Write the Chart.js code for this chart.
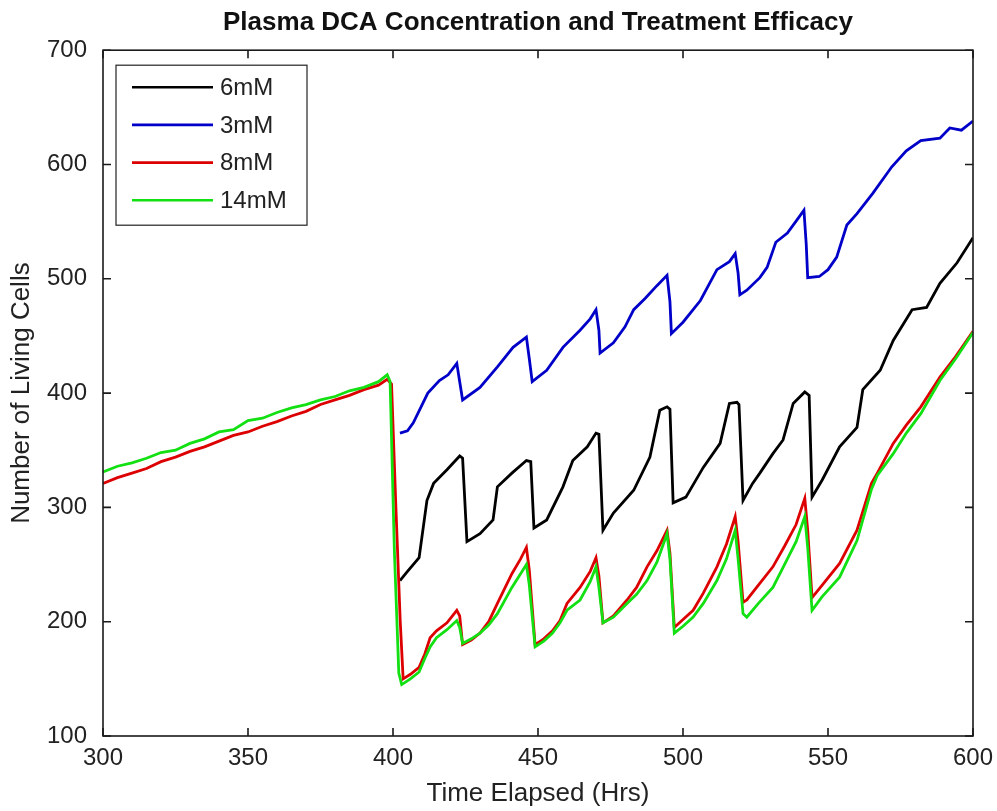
<!DOCTYPE html>
<html>
<head>
<meta charset="utf-8">
<script src="https://cdn.jsdelivr.net/npm/chart.js@4"></script>
<style>
  html, body { margin: 0; padding: 0; background: #fff; }
  #wrap { width: 997px; height: 811px; }
</style>
</head>
<body>
<div id="wrap"><canvas id="grafico"></canvas></div>
<script>
const rotulos = ['6mM', '3mM', '8mM', '14mM']
const cores = ['#000000', '#0000c8', '#dd0000', '#12e012']
const xTicks = [300, 350, 400, 450, 500, 550, 600]
const yTicks = [100, 200, 300, 400, 500, 600, 700]

// 6mM
const t6 = [402.4, 405, 409, 411.7, 414, 418.6, 423, 424, 425.5, 430, 434.5, 436, 441, 446, 447.5, 448.6, 453, 458.6, 462, 467, 470, 471, 472.4, 476, 483, 488.6, 492, 494.5, 495.5, 496.6, 501, 507, 512.8, 516, 518.6, 519.3, 520.7, 524, 526.5, 531, 534.5, 538, 542, 543.5, 544.5, 548, 554, 560, 562, 568, 572.5, 579, 584, 588.6, 594.5, 600]
const v6 = [236, 244, 256, 306, 321, 333, 345, 343, 270, 277, 289, 318, 330, 341, 340, 282, 289, 318, 341, 353, 365, 364, 280, 295, 315, 344, 385, 388, 386, 304, 309, 335, 356, 391, 392, 390, 306, 321, 330, 347, 359, 391, 401, 398, 309, 324, 353, 370, 403, 420, 446, 473, 475, 496, 514, 536]

// 3mM
const t3 = [402.4, 405, 407, 412, 416, 419, 422, 423, 424, 430, 436, 441.4, 446, 447, 448, 453, 458.6, 464.5, 468, 470, 471, 471.4, 476, 480, 483, 487, 491, 494.5, 495.5, 496, 500, 506, 511.7, 516, 518, 519, 519.6, 522, 526.5, 529, 532, 536, 540, 541.7, 542.5, 543, 547, 550, 553, 556.5, 560, 565.5, 572, 577, 582, 588.6, 592, 596, 600]
const v3 = [365, 367, 374, 400, 411, 416, 426, 410, 394, 405, 423, 440, 449, 430, 410, 420, 440, 455, 465, 473, 455, 435, 444, 458, 473, 483, 494, 503, 480, 452, 462, 481, 508, 515, 522, 505, 486, 490, 501, 510, 532, 540, 554, 560, 530, 501, 502, 508, 519, 547, 557, 575, 598, 612, 621, 623, 632, 630, 638]

// 8mM
const t8 = [300, 305, 310, 315, 320, 325, 330, 335, 340, 345, 350, 355, 360, 365, 370, 375, 380, 385, 390, 395, 398, 399.5, 401, 402.5, 403.5, 406, 409, 411, 412.8, 415, 418.6, 422, 423, 424, 427, 430, 433, 436, 441, 444, 446, 447, 449, 452, 455, 457.6, 460, 464.5, 468, 470, 471, 472.4, 476, 480.7, 484, 487.6, 491, 494.5, 495.5, 497, 500, 503.5, 507, 511.7, 515, 518, 519, 520.7, 522, 526, 531, 535, 539, 542, 543, 544.5, 548, 554, 560, 565, 567, 572.5, 577, 582, 588.6, 594, 600]
const v8 = [321, 326, 330, 334, 340, 344, 349, 353, 358, 363, 366, 371, 375, 380, 384, 390, 394, 398, 403, 407, 412, 408, 300, 200, 150, 154, 160, 172, 186, 192, 199, 210, 205, 180, 184, 190, 200, 216, 242, 255, 265, 245, 180, 185, 192, 201, 216, 230, 244, 256, 240, 199, 205, 219, 230, 248, 262, 280, 260, 195, 202, 210, 225, 248, 268, 292, 270, 217, 219, 232, 248, 266, 285, 308, 280, 221, 232, 251, 280, 321, 330, 356, 372, 388, 414, 432, 454]

// 14mM
const t14 = [300, 305, 310, 315, 320, 325, 330, 335, 340, 345, 350, 355, 360, 365, 370, 375, 380, 385, 390, 395, 398, 399, 400.5, 402, 403, 406, 409, 411, 412.8, 415, 418.6, 422, 423, 424, 427, 430, 433, 436, 441, 444, 446, 447, 449, 452, 455, 457.6, 460, 464.5, 468, 470, 471, 472.4, 476, 480.7, 484, 487.6, 491, 494.5, 495.5, 497, 500, 503.5, 507, 511.7, 515, 518, 519, 520.7, 522, 526, 531, 535, 539, 542, 543, 544.5, 548, 554, 560, 565, 567, 572.5, 577, 582, 588.6, 594, 600]
const v14 = [331, 336, 339, 343, 348, 350, 356, 360, 366, 368, 376, 378, 383, 387, 390, 394, 397, 402, 405, 410, 416, 410, 260, 155, 145, 150, 156, 168, 178, 186, 193, 201, 195, 181, 185, 190, 197, 207, 230, 242, 250, 232, 178, 183, 190, 199, 210, 219, 235, 248, 230, 199, 204, 216, 224, 236, 252, 277, 255, 190, 196, 204, 216, 236, 255, 280, 255, 207, 204, 216, 230, 250, 270, 292, 265, 210, 222, 239, 271, 316, 328, 347, 365, 382, 411, 430, 453]

const pontos = (ts, vs) => ts.map((t, i) => ({ x: t, y: vs[i] }))
const series = [pontos(t6, v6), pontos(t3, v3), pontos(t8, v8), pontos(t14, v14)]
const ordem = [2, 3, 1, 0] // green drawn on top of red

const fonte = "'Liberation Sans', Arial, sans-serif"

// title centred over the plot, like matlab does
const tituloNoEixo = {
  id: 'tituloNoEixo',
  afterLayout(chart) {
    if (chart.titleBlock) {
      chart.titleBlock.left = chart.chartArea.left
      chart.titleBlock.right = chart.chartArea.right
    }
  }
}

// box around the plot with inward ticks on all four sides
const moldura = {
  id: 'moldura',
  afterDatasetsDraw(chart) {
    const { ctx, chartArea: a, scales } = chart
    ctx.save()
    ctx.strokeStyle = '#1a1a1a'
    ctx.lineWidth = 1.6
    ctx.strokeRect(a.left, a.top, a.right - a.left, a.bottom - a.top)
    ctx.beginPath()
    scales.x.ticks.forEach(t => {
      const px = scales.x.getPixelForValue(t.value)
      ctx.moveTo(px, a.bottom); ctx.lineTo(px, a.bottom - 8)
      ctx.moveTo(px, a.top); ctx.lineTo(px, a.top + 8)
    })
    scales.y.ticks.forEach(t => {
      const py = scales.y.getPixelForValue(t.value)
      ctx.moveTo(a.left, py); ctx.lineTo(a.left + 8, py)
      ctx.moveTo(a.right, py); ctx.lineTo(a.right - 8, py)
    })
    ctx.stroke()
    ctx.restore()
  }
}

// legend box in the upper left corner of the plot
const legenda = {
  id: 'legenda',
  afterDatasetsDraw(chart) {
    const { ctx, chartArea: a } = chart
    const x0 = a.left + 13, y0 = a.top + 15
    ctx.save()
    ctx.fillStyle = '#fff'
    ctx.fillRect(x0, y0, 191, 160)
    ctx.strokeStyle = '#222'
    ctx.lineWidth = 1.2
    ctx.strokeRect(x0, y0, 191, 160)
    ctx.font = '24px ' + fonte
    ctx.textBaseline = 'middle'
    chart.data.datasets.forEach((ds, i) => {
      const y = y0 + 22 + i * 37.7
      ctx.strokeStyle = ds.borderColor
      ctx.lineWidth = 2.6
      ctx.beginPath()
      ctx.moveTo(x0 + 16, y)
      ctx.lineTo(x0 + 97, y)
      ctx.stroke()
      ctx.fillStyle = '#222'
      ctx.fillText(ds.label, x0 + 104, y + 1)
    })
    ctx.restore()
  }
}

const ctx = document.getElementById('grafico')

let grafico = new Chart(ctx, {
  type: 'line',
  data: {
    datasets: rotulos.map((r, i) => ({
      label: r,
      data: series[i],
      borderColor: cores[i],
      backgroundColor: cores[i],
      borderWidth: 2.8,
      pointRadius: 0,
      tension: 0,
      order: ordem[i]
    }))
  },
  options: {
    responsive: true,
    maintainAspectRatio: false,
    animation: false,
    layout: { padding: { left: 0, right: 24, top: 0, bottom: 0 } },
    plugins: {
      legend: { display: false },
      tooltip: { enabled: false },
      title: {
        display: true,
        text: 'Plasma DCA Concentration and Treatment Efficacy',
        color: '#111',
        font: { family: fonte, size: 26, weight: 'bold' },
        padding: { top: 7, bottom: 12 }
      }
    },
    scales: {
      x: {
        type: 'linear',
        min: 300,
        max: 600,
        afterBuildTicks: s => { s.ticks = xTicks.map(v => ({ value: v })) },
        afterFit: s => { s.height = 75; s.paddingLeft = 0; s.paddingRight = 0 },
        grid: { display: false, drawTicks: false },
        border: { display: false },
        ticks: { color: '#222', padding: 8, font: { family: fonte, size: 24 } },
        title: {
          display: true,
          text: 'Time Elapsed (Hrs)',
          color: '#222',
          font: { family: fonte, size: 26 },
          padding: { top: 2, bottom: 1.5 }
        }
      },
      y: {
        min: 100,
        max: 700,
        afterBuildTicks: s => { s.ticks = yTicks.map(v => ({ value: v })) },
        afterFit: s => { s.width = 103 },
        grid: { display: false, drawTicks: false },
        border: { display: false },
        ticks: { color: '#222', padding: 16, font: { family: fonte, size: 24 } },
        title: {
          display: true,
          text: 'Number of Living Cells',
          color: '#222',
          font: { family: fonte, size: 26 },
          padding: { top: 6, bottom: 0 }
        }
      }
    }
  },
  plugins: [tituloNoEixo, moldura, legenda]
})
</script>
</body>
</html>
